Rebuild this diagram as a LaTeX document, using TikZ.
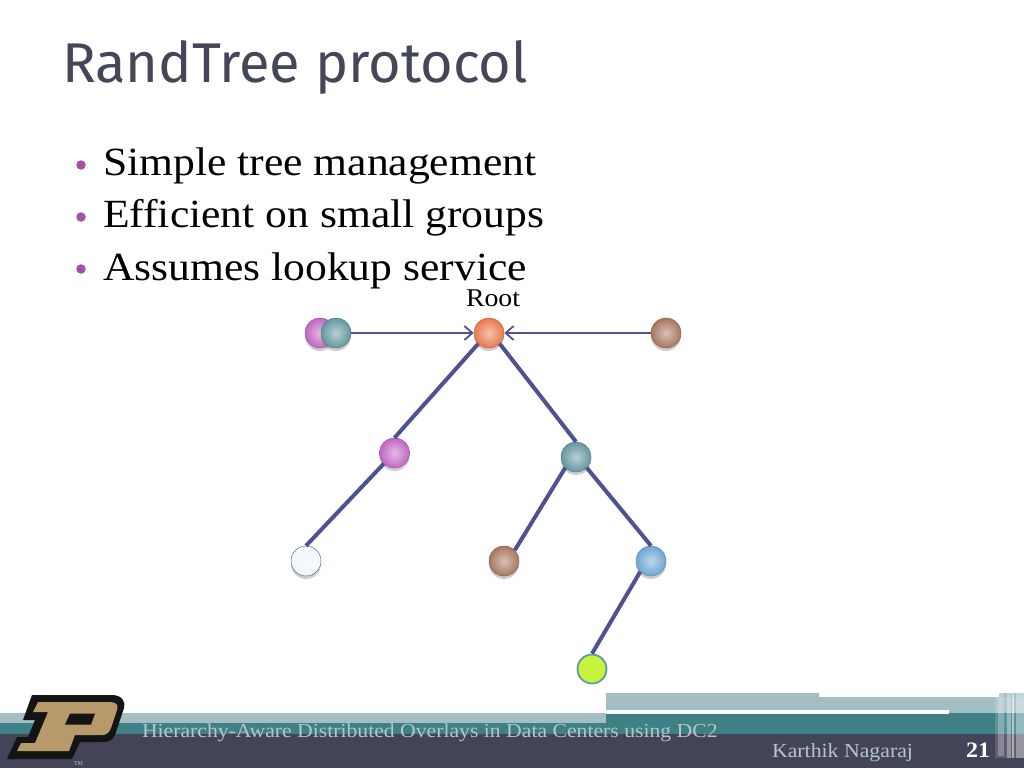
\documentclass[tikz,border=0pt]{standalone}
\usepackage{fontspec}
\setmainfont{Liberation Serif}
\newfontfamily\titlef{Fira Sans}
\newfontfamily\bodyf[FakeStretch=1.09]{Liberation Serif}
\usetikzlibrary{arrows.meta,shadows}
\definecolor{titlec}{HTML}{44465A}
\definecolor{dark}{HTML}{434458}
\definecolor{tealb}{HTML}{3F7F86}
\definecolor{lightb}{HTML}{A3BFC4}
\definecolor{edgec}{HTML}{4F5192}
\definecolor{bul}{HTML}{A850A8}
\definecolor{foot}{HTML}{B4C6CA}
\definecolor{orangeb}{HTML}{E8794C}
\definecolor{purpleb}{HTML}{C066C4}
\definecolor{tealn}{HTML}{62989F}
\definecolor{brownb}{HTML}{A6775E}
\definecolor{blueb}{HTML}{6FA6D2}
\definecolor{gold}{HTML}{B89A6A}
\definecolor{lime}{HTML}{C4F53C}
\definecolor{paleb}{HTML}{F0F6FB}
\tikzset{
  x=1pt,y=-1pt,
  ball/.style={circle,minimum size=30pt,inner sep=0pt,draw=#1!85!black,line width=.5pt,
    inner color=#1!45!white,outer color=#1,
    drop shadow={shadow xshift=0pt,shadow yshift=-3pt,opacity=.35,fill=black!55}},
  flatball/.style 2 args={circle,minimum size=29pt,inner sep=0pt,draw=#1,line width=1.8pt,fill=#2},
  tree/.style={edgec,line width=4pt},
  seek/.style={edgec,line width=2.4pt,-{Straight Barb[length=8pt,width=14pt,line width=1.8pt]}},
  txt/.style={anchor=base west,inner sep=0pt,outer sep=0pt},
  dot/.style={circle,fill=bul,minimum size=9.5pt,inner sep=0pt},
  stripe/.style={fill=white,opacity=#1},
}
\begin{document}
\begin{tikzpicture}
\useasboundingbox (0,0) rectangle (1024,768);
\fill[white] (0,0) rectangle (1024,768);
% footer bands
\fill[lightb] (0,713) rectangle (1024,724);
\fill[lightb] (606,693) rectangle (1024,713);
\fill[tealb] (0,723) rectangle (1024,734);
\fill[tealb] (606,713) rectangle (1024,734);
\fill[dark] (0,733.5) rectangle (1024,768);
\fill[white] (606,710) rectangle (949,713.5);
\fill[white] (819,693) rectangle (999,697);
% stripes
\fill[stripe=.15] (995,697) rectangle (1024,758);
\fill[stripe=.25] (998,693) rectangle (1004,756);
\fill[stripe=.35] (1007,693) rectangle (1011,758);
\fill[stripe=.5] (1012,693) rectangle (1014,758);
\fill[stripe=.35] (1016,693) rectangle (1024,758);
% logo
\fill[black!92] (32,695) -- (112,695) .. controls (122,695) and (126,702) .. (124,708)
  -- (115,735) .. controls (112,741) and (108,742) .. (103,742) -- (80,742) -- (72,759) -- (7,759)
  -- (17,737) -- (28,737) -- (35,720) -- (23,720) -- cycle;
\fill[gold] (38,702) -- (110,702)
  .. controls (116,702) and (119,705) .. (117,710) -- (111,728) .. controls (109,733) and (106,735) .. (103,735)
  -- (75,735) -- (69,751) -- (17,751) -- (21,743) -- (35,743) -- (48,712) -- (33,712) -- cycle;
\fill[black!92] (70,713.5) -- (95,713.5) -- (91,724.5) -- (65,724.5) -- cycle;
\node[txt,text=foot,font=\fontsize{6}{6}\selectfont] (tm) at (74,765) {TM};
% texts
\node[txt,text=titlec,font=\titlef\fontsize{56}{56}\selectfont] (title) at (62,82) {RandTree protocol};
\node[dot] (b1) at (81,165) {};
\node[dot] (b2) at (81,217) {};
\node[dot] (b3) at (81,269) {};
\node[txt,font=\bodyf\fontsize{40}{40}\selectfont] (t1) at (103,175) {Simple tree management};
\node[txt,font=\bodyf\fontsize{40}{40}\selectfont] (t2) at (103,227) {Efficient on small groups};
\node[txt,font=\bodyf\fontsize{40}{40}\selectfont] (t3) at (103,280) {Assumes lookup service};
\node[txt,font=\bodyf\fontsize{25.5}{25.5}\selectfont] (rootl) at (466,306) {Root};
\node[txt,text=foot,font=\bodyf\fontsize{19.9}{19.9}\selectfont] (f1) at (142,737) {Hierarchy-Aware Distributed Overlays in Data Centers using DC2};
\node[txt,text=foot,font=\bodyf\fontsize{20}{20}\selectfont] (f2) at (772,757) {Karthik Nagaraj};
\node[txt,text=white,font=\bodyf\bfseries\fontsize{22}{22}\selectfont] (f3) at (966,757) {21};
% nodes
\node[ball=purpleb] (pl) at (320,333) {};
\node[ball=tealn] (tl) at (336,333) {};
\node[ball=orangeb] (root) at (489,333) {};
\node[ball=brownb] (br) at (666,333) {};
\node[ball=purpleb] (p) at (394.5,453) {};
\node[ball=tealn] (t) at (576,457) {};
\node[ball=brownb] (b) at (504,561) {};
\node[ball=blueb] (u) at (651,561) {};
\node[ball=paleb,draw=blueb!70!black] (w) at (306,561) {};
\node[flatball={tealn}{lime}] (g) at (592,669) {};
% connectors
\draw[seek] (tl) -- (root);
\draw[seek] (br) -- (root);
\draw[tree] (root.south west) -- (p.north);
\draw[tree] (root.south east) -- (t.north);
\draw[tree] (p.south west) -- (w.north);
\draw[tree] (t.south west) -- (b.north east);
\draw[tree] (t.south east) -- (u.north);
\draw[tree] (u.south west) -- (g.north);
\end{tikzpicture}
\end{document}
